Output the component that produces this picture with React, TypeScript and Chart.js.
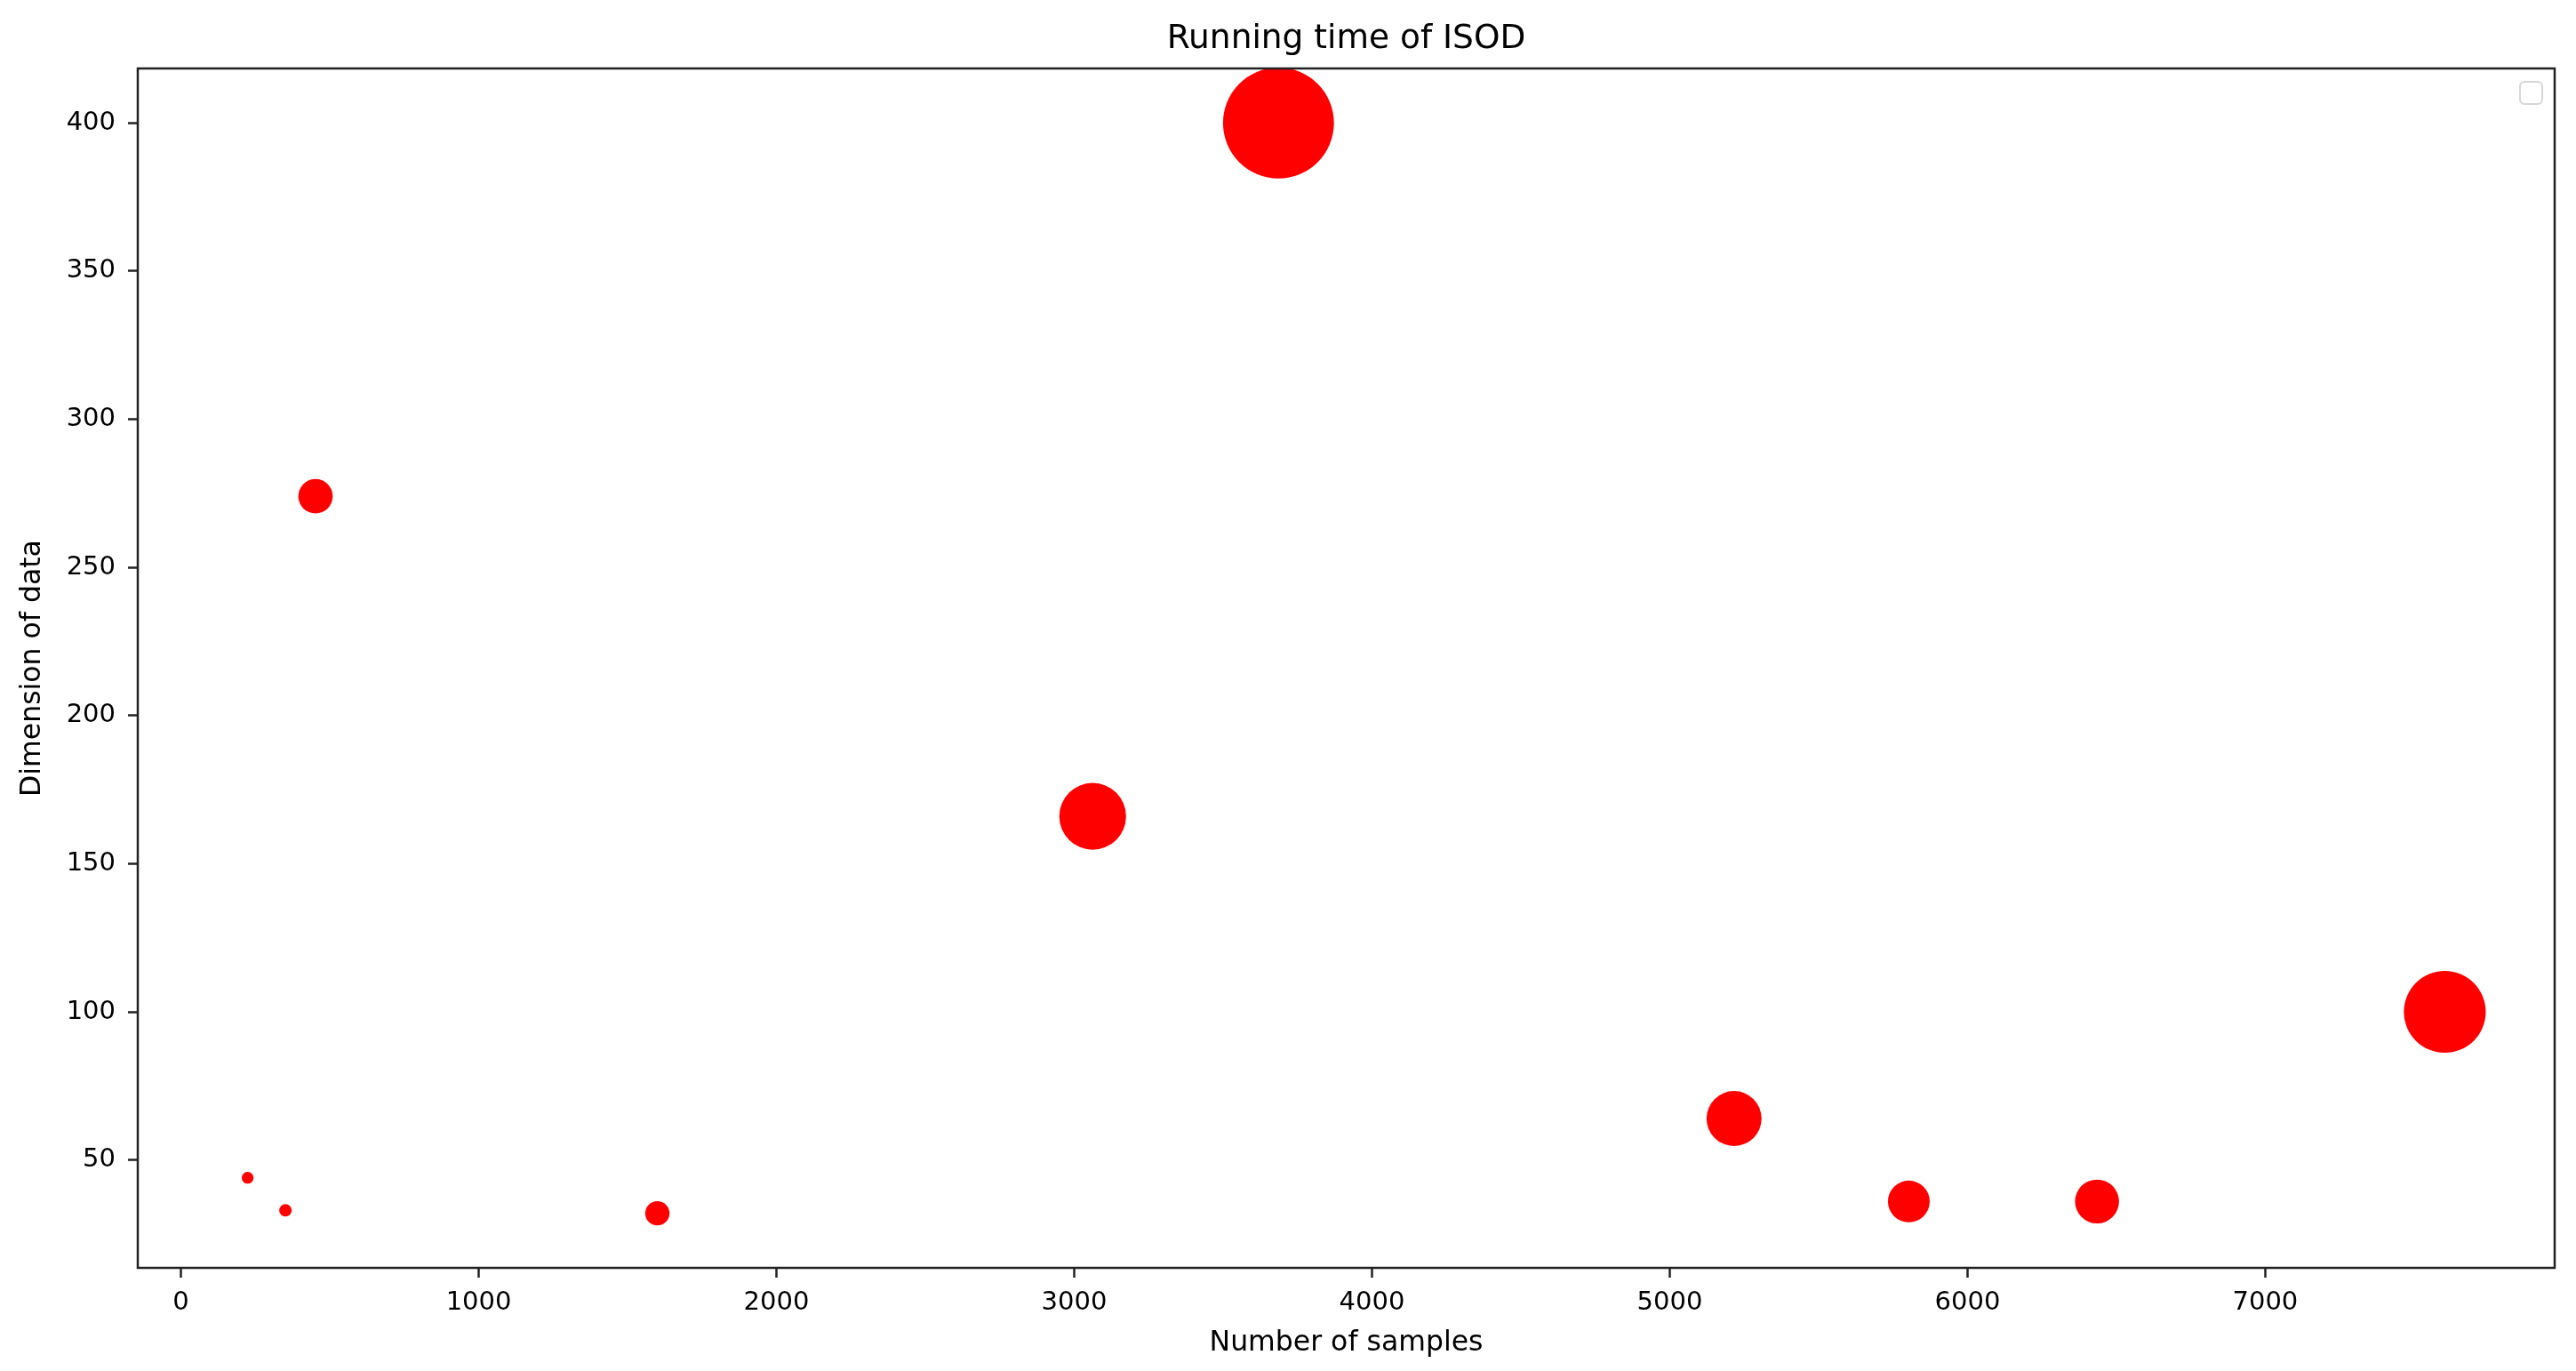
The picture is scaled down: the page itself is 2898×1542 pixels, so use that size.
import React, { useEffect, useRef } from 'react';
import { Chart, registerables } from 'chart.js';

Chart.register(...registerables);

// Datasets: number of samples (x), dimension (y), relative running time (bubble size)
const samples = [224, 351, 452, 1600, 3062, 3686, 5216, 5803, 6435, 7603];
const dimensions = [44, 33, 274, 32, 166, 400, 64, 36, 36, 100];
const runningTime = [4.5, 5, 38, 19, 143, 395, 97, 56, 62, 215];

const xTicks = [0, 1000, 2000, 3000, 4000, 5000, 6000, 7000];
const yTicks = [50, 100, 150, 200, 250, 300, 350, 400];

const titleText = 'Running time of ISOD';
const xLabel = 'Number of samples';
const yLabel = 'Dimension of data';

const FONT = "'DejaVu Sans', sans-serif";

function paddedRange(vals: number[]) {
  const lo = Math.min(...vals);
  const hi = Math.max(...vals);
  const m = (hi - lo) * 0.05;
  return [lo - m, hi + m];
}

const framePlugin = {
  id: 'frame',
  afterDraw(chart: any) {
    const { ctx, chartArea: a } = chart;
    ctx.save();
    // empty legend box (matplotlib legend with no handles)
    const bx = a.right - 39;
    const by = a.top + 15;
    ctx.beginPath();
    ctx.roundRect(bx, by, 25, 25, 5);
    ctx.fillStyle = 'rgba(255,255,255,0.8)';
    ctx.fill();
    ctx.strokeStyle = 'rgba(204,204,204,0.8)';
    ctx.lineWidth = 2;
    ctx.stroke();
    // spines
    ctx.strokeStyle = '#222';
    ctx.lineWidth = 2.5;
    ctx.strokeRect(a.left, a.top, a.right - a.left, a.bottom - a.top);
    ctx.restore();
  },
};

export default function App() {
  const ref = useRef<HTMLCanvasElement | null>(null);

  useEffect(() => {
    document.body.style.margin = '0';
    const canvas = ref.current;
    if (!canvas) return;
    const [xMin, xMax] = paddedRange(samples);
    const [yMin, yMax] = paddedRange(dimensions);

    const chart = new Chart(canvas, {
      type: 'bubble',
      data: {
        datasets: [
          {
            label: '',
            data: samples.map((x, i) => ({
              x,
              y: dimensions[i],
              r: Math.sqrt(runningTime[i]) * 3.14,
            })),
            backgroundColor: '#ff0000',
            borderWidth: 0,
            hoverRadius: 0,
            hoverBorderWidth: 0,
            clip: 0,
          } as any,
        ],
      },
      plugins: [framePlugin],
      options: {
        animation: false,
        responsive: false,
        devicePixelRatio: 1,
        events: [],
        layout: { autoPadding: false, padding: { top: 0, left: 0, right: 24, bottom: 0 } },
        plugins: {
          legend: { display: false },
          tooltip: { enabled: false },
          title: {
            display: true,
            fullSize: false,
            text: titleText,
            color: '#000',
            font: { family: FONT, size: 37.5, weight: 'normal' },
            padding: { top: 21.5, bottom: 10.5 },
          },
        },
        scales: {
          x: {
            type: 'linear',
            min: xMin,
            max: xMax,
            afterBuildTicks: (axis: any) => {
              axis.ticks = xTicks.map((v) => ({ value: v }));
            },
            afterFit: (axis: any) => {
              axis.height = 116;
              axis.paddingLeft = 0;
              axis.paddingRight = 0;
            },
            border: { display: false },
            grid: {
              display: true,
              drawOnChartArea: false,
              drawTicks: true,
              tickLength: 11,
              tickWidth: 2.5,
              tickColor: '#222',
            },
            ticks: {
              autoSkip: false,
              maxRotation: 0,
              padding: 11,
              color: '#000',
              font: { family: FONT, size: 29 },
              callback: (v: any) => String(v),
            },
            title: {
              display: true,
              text: xLabel,
              color: '#000',
              font: { family: FONT, size: 31.5 },
              padding: { top: 0, bottom: 12 },
            },
          },
          y: {
            type: 'linear',
            min: yMin,
            max: yMax,
            afterBuildTicks: (axis: any) => {
              axis.ticks = yTicks.map((v) => ({ value: v }));
            },
            afterFit: (axis: any) => {
              axis.width = 155;
              axis.paddingTop = 0;
              axis.paddingBottom = 0;
            },
            border: { display: false },
            grid: {
              display: true,
              drawOnChartArea: false,
              drawTicks: true,
              tickLength: 11,
              tickWidth: 2.5,
              tickColor: '#222',
            },
            ticks: {
              autoSkip: false,
              padding: 14,
              color: '#000',
              font: { family: FONT, size: 29 },
              callback: (v: any) => String(v),
            },
            title: {
              display: true,
              text: yLabel,
              color: '#000',
              font: { family: FONT, size: 31.5 },
              padding: { top: 18, bottom: 0 },
            },
          },
        },
      } as any,
    });
    return () => chart.destroy();
  }, []);

  return (
    <canvas
      ref={ref}
      width={2898}
      height={1542}
      style={{ display: 'block', width: 2898, height: 1542 }}
    />
  );
}
